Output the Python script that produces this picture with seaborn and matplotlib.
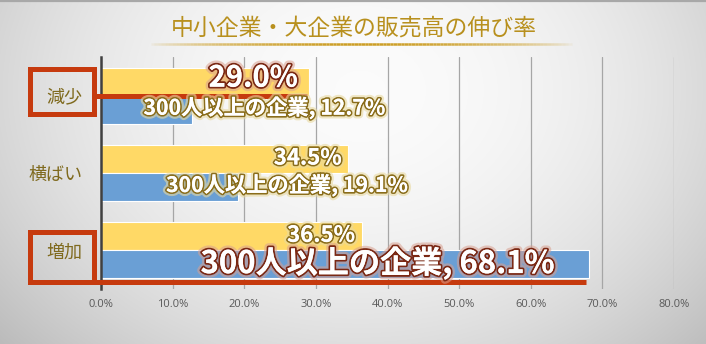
import numpy as np
import pandas as pd
import matplotlib
matplotlib.use("Agg")
import matplotlib.pyplot as plt
import matplotlib.patheffects as pe
from matplotlib.patches import Rectangle
from matplotlib.collections import LineCollection
import seaborn as sns

# ---------------- data ----------------
categories = ['減少', '横ばい', '増加']
series_names = ['300人未満の企業', '300人以上の企業']
small_firm_values = [29.0, 34.5, 36.5]
large_firm_values = [12.7, 19.1, 68.1]
x_ticks = [0, 10, 20, 30, 40, 50, 60, 70, 80]
title_text = '中小企業・大企業の販売高の伸び率'

df = pd.DataFrame({
    'category': categories * 2,
    'series': [series_names[0]] * 3 + [series_names[1]] * 3,
    'value': small_firm_values + large_firm_values,
})

# ---------------- style ----------------
sns.set_style('white')
plt.rcParams['font.family'] = ['Noto Sans CJK JP', 'DejaVu Sans']

W, H = 706, 344
fig = plt.figure(figsize=(W / 100, H / 100), dpi=100)

# background radial gradient
bg = fig.add_axes([0, 0, 1, 1], zorder=-5)
yy, xx = np.mgrid[0:H, 0:W]
d2 = ((xx - 360) / 420.0) ** 2 + ((yy - 90) / 330.0) ** 2
val = np.clip(0.985 - 0.19 * d2, 0.70, 1.0)
bg.imshow(np.dstack([val, val, val]), extent=[0, W, H, 0], aspect='auto')
bg.set_xlim(0, W)
bg.set_ylim(H, 0)
bg.axis('off')
# top border
bg.plot([0, W], [0.8, 0.8], color='#a8a8a8', lw=1.6)
# title underline (gold, fading at both ends)
xs = np.linspace(147, 572, 120)
segs = [[(xs[i], 43.5), (xs[i + 1], 43.5)] for i in range(len(xs) - 1)]
t = (xs[:-1] - xs[0]) / (xs[-1] - xs[0])
alphas = np.sin(np.pi * t) ** 0.7
cols = [(0.80, 0.62, 0.15, a) for a in alphas]
bg.add_collection(LineCollection(segs, colors=cols, linewidths=1.8))

# main axes
ax = fig.add_axes([101 / W, 1 - 289 / H, 573 / W, 232 / H])
ax.patch.set_alpha(0)

yellow = '#FFD966'
blue = '#6A9FD5'
sns.barplot(data=df, x='value', y='category', hue='series',
            order=categories, hue_order=series_names,
            palette=[yellow, blue], orient='h', width=0.725,
            saturation=1, edgecolor='white', linewidth=0.8,
            legend=False, ax=ax, zorder=2)

ax.set_xlim(0, 80)
ax.set_ylim(2.5, -0.5)
ax.set_xticks(x_ticks)
ax.set_xticklabels([f'{v:.1f}%' for v in x_ticks], fontsize=8,
                   color='#595959', family=['Open Sans', 'DejaVu Sans'])
ax.tick_params(axis='x', length=0, pad=7)
ax.tick_params(axis='y', length=0, pad=13.5)
for lbl in ax.get_yticklabels():
    lbl.set_fontsize(13)
    lbl.set_color('#7F6A1E')
ax.set_xlabel('')
ax.set_ylabel('')
ax.xaxis.grid(True, color='#a6a6a6', lw=0.9, zorder=0)
ax.set_axisbelow(True)
for s in ['top', 'right', 'bottom']:
    ax.spines[s].set_visible(False)
ax.spines['left'].set_color('#404040')
ax.spines['left'].set_linewidth(1.8)
ax.spines['left'].set_zorder(3)

# ---------------- data labels ----------------
red_outline = [pe.withStroke(linewidth=6, foreground='#d9a090', alpha=0.55),
               pe.withStroke(linewidth=2.6, foreground='#7A2814'), pe.Normal()]
gold_outline = [pe.withStroke(linewidth=5.5, foreground='#e8d9a0', alpha=0.6),
                pe.withStroke(linewidth=2.4, foreground='#8A6D1B'), pe.Normal()]

# per-label style: (fontsize, x offset px from bar end, y offset px, effects)
yellow_label_style = [(21, -11, 4, red_outline),
                      (16, -6, 1, gold_outline),
                      (16, -7, 1, gold_outline)]
blue_label_style = [(15.3, 193, 2, gold_outline),
                    (15.3, 170, 2, gold_outline),
                    (22.4, -34, 1, red_outline)]

px2pt = 0.72
for bar, style in zip(ax.containers[0], yellow_label_style):
    fs, dx, dy, eff = style
    v = bar.get_width()
    yc = bar.get_y() + bar.get_height() / 2
    ax.annotate(f'{v:.1f}%', xy=(v, yc), xytext=(dx * px2pt, dy * px2pt),
                textcoords='offset points', ha='right', va='center',
                fontsize=fs, fontweight='bold', color='white',
                path_effects=eff, zorder=6)
for bar, style in zip(ax.containers[1], blue_label_style):
    fs, dx, dy, eff = style
    v = bar.get_width()
    yc = bar.get_y() + bar.get_height() / 2
    ax.annotate(f'{series_names[1]}, {v:.1f}%', xy=(v, yc),
                xytext=(dx * px2pt, dy * px2pt),
                textcoords='offset points', ha='right', va='center',
                fontsize=fs, fontweight='bold', color='white',
                path_effects=eff, zorder=6)

# ---------------- red highlight boxes & lines ----------------
red = '#C63A0E'
ax.add_patch(Rectangle((-9.98, -0.339), 9.07, 0.582, fill=False,
                       edgecolor=red, lw=3.6, clip_on=False, zorder=5))
ax.add_patch(Rectangle((-9.98, 1.757), 9.07, 0.647, fill=False,
                       edgecolor=red, lw=3.6, clip_on=False, zorder=5))
ax.plot([-0.91, small_firm_values[0] - 0.2], [0.0, 0.0], color=red, lw=3.6,
        clip_on=False, zorder=5, solid_capstyle='butt')
ax.plot([-0.91, large_firm_values[2] - 0.4], [2.404, 2.404], color=red, lw=3.6,
        clip_on=False, zorder=5, solid_capstyle='butt')

# ---------------- title ----------------
fig.text(354 / W, 1 - 28 / H, title_text, ha='center', va='center',
         fontsize=16.5, color='#B8901E')

fig.savefig('out.png', dpi=100)
